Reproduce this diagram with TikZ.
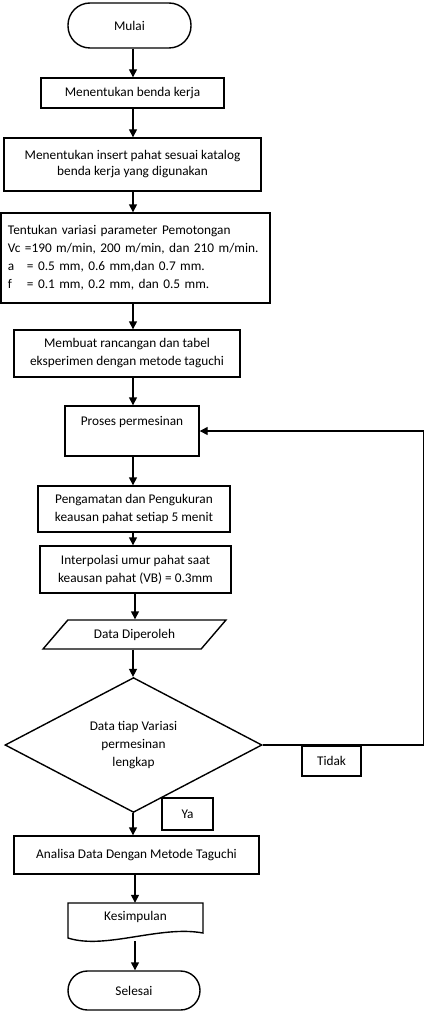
\documentclass[tikz,border=0pt]{standalone}
\usepackage{fontspec}
\setmainfont{Carlito}
\usetikzlibrary{arrows.meta,shapes.geometric}
\begin{document}
\begin{tikzpicture}[x=1pt,y=-1pt,
  every node/.style={font=\fontsize{13.3pt}{16pt}\selectfont, inner sep=0pt},
  box/.style={draw, line width=1.4pt, rectangle, align=center},
  term/.style={box, rounded corners=19pt},
  arr/.style={line width=1.4pt, -{Triangle[width=8pt,length=8pt]}},
  ln/.style={line width=1.4pt}]
\useasboundingbox (0,0) rectangle (425,1011);
\coordinate (axis) at (133,0);
\coordinate (fbR) at (423.5,0);
\coordinate (kesB) at (135,941);
\node[term, rounded corners=22pt, minimum width=123pt, minimum height=45pt] (start) at (129.5,25.5) {Mulai};
\node[box, minimum width=183pt, minimum height=30pt] (b1) at (132.5,93) {Menentukan benda kerja};
\node[box, minimum width=257pt, minimum height=53pt] (b2) at (132.5,164.5) {Menentukan insert pahat sesuai katalog\\benda kerja yang digunakan};
\node[box, minimum width=269pt, minimum height=90pt, align=left, text width=255pt, font=\fontsize{13.3pt}{18pt}\selectfont] (b3) at (135.5,258) {Tentukan variasi parameter Pemotongan\\Vc =190 m/min, 200 m/min, dan 210 m/min.\\\makebox[19pt][l]{a}= 0.5 mm, 0.6 mm,dan 0.7 mm.\\\makebox[19pt][l]{f}= 0.1 mm, 0.2 mm, dan 0.5 mm.};
\node[box, minimum width=226pt, minimum height=47pt, font=\fontsize{13.3pt}{18pt}\selectfont] (b4) at (127,353.5) {Membuat rancangan dan tabel\\eksperimen dengan metode taguchi};
\node[box, minimum width=134pt, minimum height=50pt] (b5) at (132,431) {Proses permesinan\\\strut};
\node[box, minimum width=192pt, minimum height=46pt, font=\fontsize{13.3pt}{18pt}\selectfont] (b6) at (134,509) {Pengamatan dan Pengukuran\\keausan pahat setiap 5 menit};
\node[box, minimum width=191pt, minimum height=47pt, font=\fontsize{13.3pt}{18pt}\selectfont] (b7) at (135.5,569.5) {Interpolasi umur pahat saat\\keausan pahat (VB) = 0.3mm};
\node[draw, line width=1.4pt, trapezium, trapezium left angle=37, trapezium right angle=143, trapezium stretches=true, minimum width=183pt, minimum height=29pt] (data) at (134.5,634.5) {Data Diperoleh};
\node[draw, line width=1.4pt, diamond, minimum width=257pt, minimum height=126pt, align=center, font=\fontsize{13.3pt}{18pt}\selectfont] (dec) at (133.5,745) {Data tiap Variasi\\permesinan\\lengkap};
\node[box, minimum width=59pt, minimum height=30pt] (tidak) at (331.5,761) {Tidak};
\node[box, minimum width=51pt, minimum height=32pt] (ya) at (187.5,814) {Ya};
\node[box, minimum width=245pt, minimum height=38pt] (b8) at (136.5,855) {Analisa Data Dengan Metode Taguchi};
\node[minimum width=135pt, minimum height=28pt] (kes) at (135.5,917) {Kesimpulan};
\draw[ln] (68,903) -- (203,903) -- (203,933) .. controls (160,925) and (105,950) .. (68,938) -- cycle;
\node[term, rounded corners=19.5pt, minimum width=132pt, minimum height=39pt] (sel) at (134,990.5) {Selesai};
\draw[arr] (start.south -| axis) -- (b1.north -| axis);
\draw[arr] (b1.south -| axis) -- (b2.north -| axis);
\draw[arr] (b2.south -| axis) -- (b3.north -| axis);
\draw[arr] (b3.south -| axis) -- (b4.north -| axis);
\draw[arr] (b4.south -| axis) -- (b5.north -| axis);
\draw[arr] (b5.south -| axis) -- (b6.north -| axis);
\draw[arr] (b6.south -| axis) -- (b7.north -| axis);
\draw[arr] (b7.south -| kesB) -- (data.north -| kesB);
\draw[arr] (data.south -| axis) -- (dec.north -| axis);
\draw[arr] (dec.south -| axis) -- (b8.north -| axis);
\draw[arr] (b8.south -| kesB) -- (kes.north -| kesB);
\draw[arr] (kesB) -- (sel.north -| kesB);
\draw[arr] (dec.east) -- (dec.east -| fbR) |- (b5.east);
\end{tikzpicture}
\end{document}
